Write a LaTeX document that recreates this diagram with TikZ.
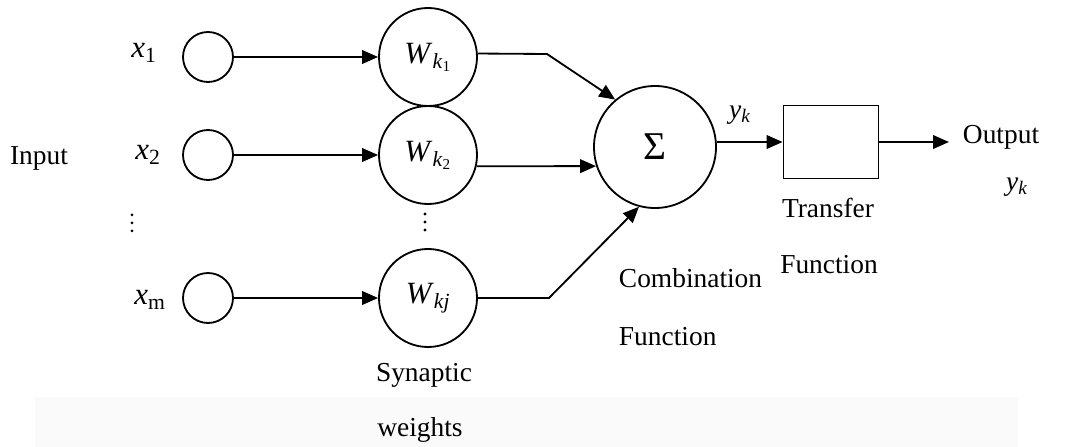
\documentclass[tikz,border=0pt]{standalone}
\usepackage{fontspec}
\setmainfont{Liberation Serif}
\usetikzlibrary{arrows.meta, positioning}

\newcommand{\wlab}[1]{\textit{W}\textsubscript{\textit{k}\textsubscript{#1}}}

\begin{document}
\begin{tikzpicture}[
  every node/.style={font=\fontsize{19.5}{23}\selectfont},
  inp/.style={circle, draw, line width=1.3pt, minimum size=1.25cm, inner sep=0pt},
  wgt/.style={circle, draw, line width=1.3pt, minimum size=2.45cm, inner sep=0pt,
              font=\fontsize{22}{26}\selectfont},
  arr/.style={-{Triangle[length=0.4cm, width=0.34cm]}, line width=1.3pt},
  dot/.style={fill, circle, inner sep=0pt, minimum size=2.2pt}
]
\useasboundingbox (0,0) rectangle (26.7,-11.175);
\fill[black!2] (0.875,-9.925) rectangle (25.45,-11.175);

% inputs
\node (in) at (0.975,-3.95) {Input};
\node[inp] (x1) at (5.2,-1.425) {};
\node[inp] (x2) at (5.2,-3.875) {};
\node[inp] (xm) at (5.2,-7.45) {};
\node (lx1) at (3.6,-1.325) {\fontsize{22}{26}\selectfont\textit{x}\textsubscript{1}};
\node (lx2) at (3.7,-3.875) {\fontsize{22}{26}\selectfont\textit{x}\textsubscript{2}};
\node (lxm) at (3.75,-7.5) {\fontsize{22}{26}\selectfont\textit{x}\textsubscript{m}};
\foreach \y in {-5.37,-5.57,-5.77} \node[dot] at (3.3,\y) {};

% weights
\node[wgt] (w1) at (10.7,-1.425) {\wlab{1}};
\node[wgt] (w2) at (10.7,-3.875) {\wlab{2}};
\node[wgt] (wj) at (10.7,-7.45) {\textit{W}\textsubscript{\textit{kj}}};
\foreach \y in {-5.35,-5.55,-5.75} \node[dot] at (10.625,\y) {};
\node (syn) at (10.6,-9.375) {Synaptic};
\node (wts) at (10.5,-10.75) {weights};

% summation and transfer
\node[wgt, minimum size=3.05cm] (sig) at (16.375,-3.675) {\fontsize{28}{32}\selectfont Σ};
\node[draw, line width=1.3pt, minimum width=2.375cm, minimum height=1.825cm] (box) at (20.775,-3.55) {};
\coordinate (out) at (23.725,-3.55);
\coordinate (b1) at (13.675,-1.35);
\coordinate (bj) at (13.725,-7.45);

\node (yk) at (18.5,-2.875) {\textit{y}\textsubscript{\textit{k}}};
\node[anchor=west] (outl) at (23.95,-3.425) {Output};
\node (yk2) at (25.425,-4.675) {\textit{y}\textsubscript{\textit{k}}};
\node (tr) at (20.7,-5.2) {Transfer};
\node (trf) at (20.725,-6.625) {Function};
\node[anchor=west] (cmb) at (15.35,-6.95) {Combination};
\node[anchor=west] (cmf) at (15.35,-8.425) {Function};

% connectors
\draw[arr] (x1) -- (w1);
\draw[arr] (x2) -- (w2);
\draw[arr] (xm) -- (wj);
\draw[arr] (w1.4) -- (b1) -- (sig.130);
\draw[arr] (w2.-13) -- (sig.198);
\draw[arr] (wj.east) -- (bj) -- (sig.255);
\draw[arr] (sig.east |- box.west) -- (box.west);
\draw[arr] (box.east) -- (out);
\end{tikzpicture}
\end{document}
